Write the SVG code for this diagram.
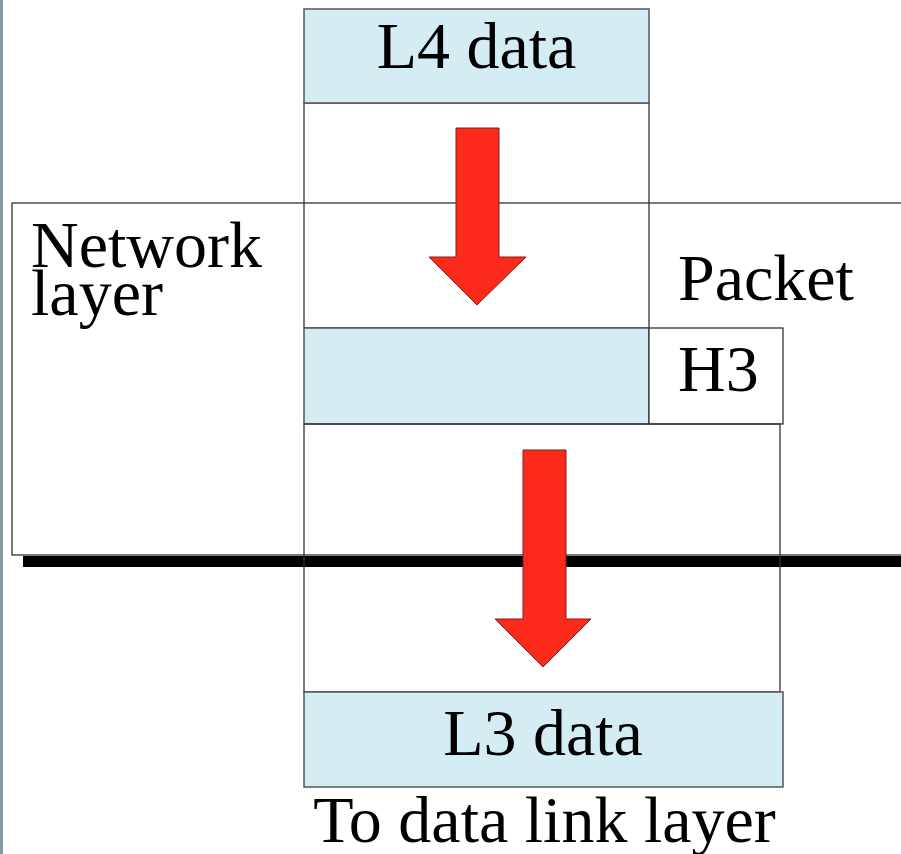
<svg xmlns="http://www.w3.org/2000/svg" width="901" height="854" viewBox="0 0 901 854">
  <defs>
    <style>
      .lbl { font-family: "Liberation Serif", "Times New Roman", serif; font-size: 66px; fill: #000; }
      .box { fill: #fff; stroke: #333; stroke-width: 1.3; }
      .open { fill: none; stroke: #333; stroke-width: 1.3; }
      .data { fill: #d4edf4; stroke: #555; stroke-width: 1.5; }
      .arrow { fill: #fb2a1b; stroke: #7a2020; stroke-width: 1; }
    </style>
  </defs>
  <rect x="0" y="0" width="901" height="854" fill="#fff"/>
  <rect x="0" y="0" width="3" height="854" fill="#7e9ca2"/>

  <g id="network-layer">
    <rect class="box" x="12" y="203" width="900" height="352"/>
    <rect x="23" y="556" width="890" height="11" fill="#000"/>
    <text class="lbl" x="31" y="267">Network</text>
    <text class="lbl" x="31" y="315">layer</text>
    <text class="lbl" x="678" y="300">Packet</text>
  </g>

  <g id="l4-column">
    <rect class="open" x="304" y="103" width="345" height="225"/>
  </g>

  <g id="l4-data">
    <rect class="data" x="304" y="9" width="345" height="94"/>
    <text class="lbl" x="476.5" y="68" text-anchor="middle">L4 data</text>
  </g>

  <g id="packet-row">
    <rect class="data" x="304" y="328" width="345" height="96"/>
    <g id="h3">
      <rect class="box" x="649" y="328" width="134" height="96"/>
      <text class="lbl" x="678" y="391">H3</text>
    </g>
  </g>

  <g id="l3-column">
    <rect class="open" x="304" y="424" width="476" height="268"/>
  </g>

  <g id="l3-data">
    <rect class="data" x="304" y="692" width="479" height="95"/>
    <text class="lbl" x="543" y="755" text-anchor="middle">L3 data</text>
  </g>

  <g id="to-data-link">
    <text class="lbl" x="544.5" y="842" text-anchor="middle">To data link layer</text>
  </g>

  <g id="connectors">
    <polygon class="arrow" points="456,128 499,128 499,257 526,257 477,305 429,257 456,257"/>
    <polygon class="arrow" points="523,450 566,450 566,619 591,619 543,667 495,619 523,619"/>
  </g>
</svg>
